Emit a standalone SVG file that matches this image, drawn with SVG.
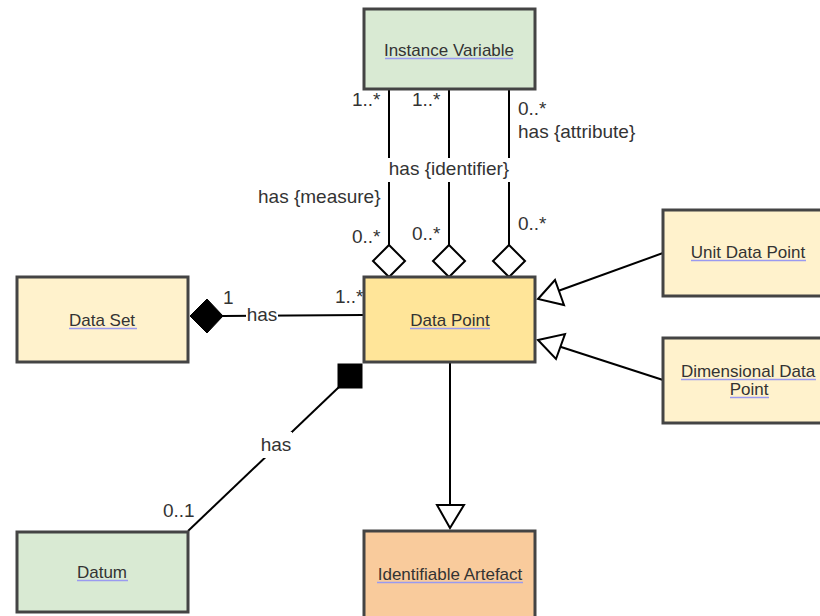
<svg xmlns="http://www.w3.org/2000/svg" width="820" height="616" viewBox="0 0 820 616">
<style>
.box{stroke:#444;stroke-width:3}
.nl{font-family:"Liberation Sans",Arial,sans-serif;font-size:17px;fill:#333;text-anchor:middle}
.ul{stroke:#9a9af0;stroke-width:1.5}
.el{font-family:"Liberation Sans",Arial,sans-serif;font-size:19px;fill:#333}
.ln{stroke:#000;stroke-width:2;fill:none}
.open{fill:#fff;stroke:#000;stroke-width:2}
.solid{fill:#000;stroke:#000;stroke-width:1}
</style>
<rect width="820" height="616" fill="#fff"/>
<g id="connectors">
  <line class="ln" x1="389" y1="89" x2="389" y2="245"/>
  <line class="ln" x1="449" y1="89" x2="449" y2="245"/>
  <line class="ln" x1="509" y1="89" x2="509" y2="245"/>
  <polygon class="open" points="389,245 405,261 389,277 373,261"/>
  <polygon class="open" points="449,245 465,261 449,277 433,261"/>
  <polygon class="open" points="509,245 525,261 509,277 493,261"/>
  <line class="ln" x1="223" y1="316" x2="363" y2="315"/>
  <polygon class="solid" points="190,316 207,299 223,316 207,333"/>
  <line class="ln" x1="188" y1="531" x2="339" y2="387"/>
  <rect class="solid" x="338" y="364" width="24" height="24"/>
  <line class="ln" x1="663" y1="253" x2="558" y2="291"/>
  <polygon class="open" points="538,299 555,280 564,305"/>
  <line class="ln" x1="663" y1="380" x2="558" y2="346"/>
  <polygon class="open" points="538,340 565,334 556,359"/>
  <line class="ln" x1="450" y1="362" x2="450" y2="505"/>
  <polygon class="open" points="437,505 464,505 450,528"/>
  <text class="el" x="352" y="106">1..*</text>
  <text class="el" x="412" y="106">1..*</text>
  <text class="el" x="518" y="115">0..*</text>
  <text class="el" x="518" y="138">has {attribute}</text>
  <rect x="388" y="158" width="123" height="24" fill="#fff"/>
  <text class="el" x="449" y="175" text-anchor="middle">has {identifier}</text>
  <text class="el" x="258" y="203">has {measure}</text>
  <text class="el" x="352" y="243">0..*</text>
  <text class="el" x="412" y="240">0..*</text>
  <text class="el" x="518" y="230">0..*</text>
  <text class="el" x="223" y="304">1</text>
  <rect x="246" y="304" width="32" height="22" fill="#fff"/>
  <text class="el" x="262" y="321" text-anchor="middle">has</text>
  <text class="el" x="335" y="303">1..*</text>
  <rect x="260" y="432" width="32" height="26" fill="#fff"/>
  <text class="el" x="276" y="451" text-anchor="middle">has</text>
  <text class="el" x="163" y="517">0..1</text>
</g>
<g id="instance-variable">
  <rect class="box" x="364" y="9" width="171" height="80" fill="#d9ead3"/>
  <text class="nl" x="449" y="56">Instance Variable</text>
  <line class="ul" x1="385" y1="58.5" x2="513" y2="58.5"/>
</g>
<g id="data-set">
  <rect class="box" x="17" y="277" width="171" height="85" fill="#fff2cc"/>
  <text class="nl" x="102" y="326">Data Set</text>
  <line class="ul" x1="69" y1="328.5" x2="137" y2="328.5"/>
</g>
<g id="data-point">
  <rect class="box" x="364" y="277" width="171" height="85" fill="#ffe599"/>
  <text class="nl" x="450" y="326">Data Point</text>
  <line class="ul" x1="410" y1="328.5" x2="490" y2="328.5"/>
</g>
<g id="unit-data-point">
  <rect class="box" x="663" y="210" width="171" height="86" fill="#fff2cc"/>
  <text class="nl" x="748" y="258">Unit Data Point</text>
  <line class="ul" x1="691" y1="260.5" x2="806" y2="260.5"/>
</g>
<g id="dimensional-data-point">
  <rect class="box" x="663" y="338" width="171" height="85" fill="#fff2cc"/>
  <text class="nl" x="748" y="377" font-size="16.5">Dimensional Data</text>
  <text class="nl" x="749" y="395" font-size="16.5">Point</text>
  <line class="ul" x1="681" y1="379.5" x2="816" y2="379.5"/>
  <line class="ul" x1="730" y1="397.5" x2="769" y2="397.5"/>
</g>
<g id="datum">
  <rect class="box" x="17" y="532" width="171" height="80" fill="#d9ead3"/>
  <text class="nl" x="102" y="578">Datum</text>
  <line class="ul" x1="77" y1="580.5" x2="128" y2="580.5"/>
</g>
<g id="identifiable-artefact">
  <rect class="box" x="364" y="531" width="171" height="90" fill="#f9cb9c"/>
  <text class="nl" x="450" y="580">Identifiable Artefact</text>
  <line class="ul" x1="377" y1="582.5" x2="523" y2="582.5"/>
</g>
</svg>
